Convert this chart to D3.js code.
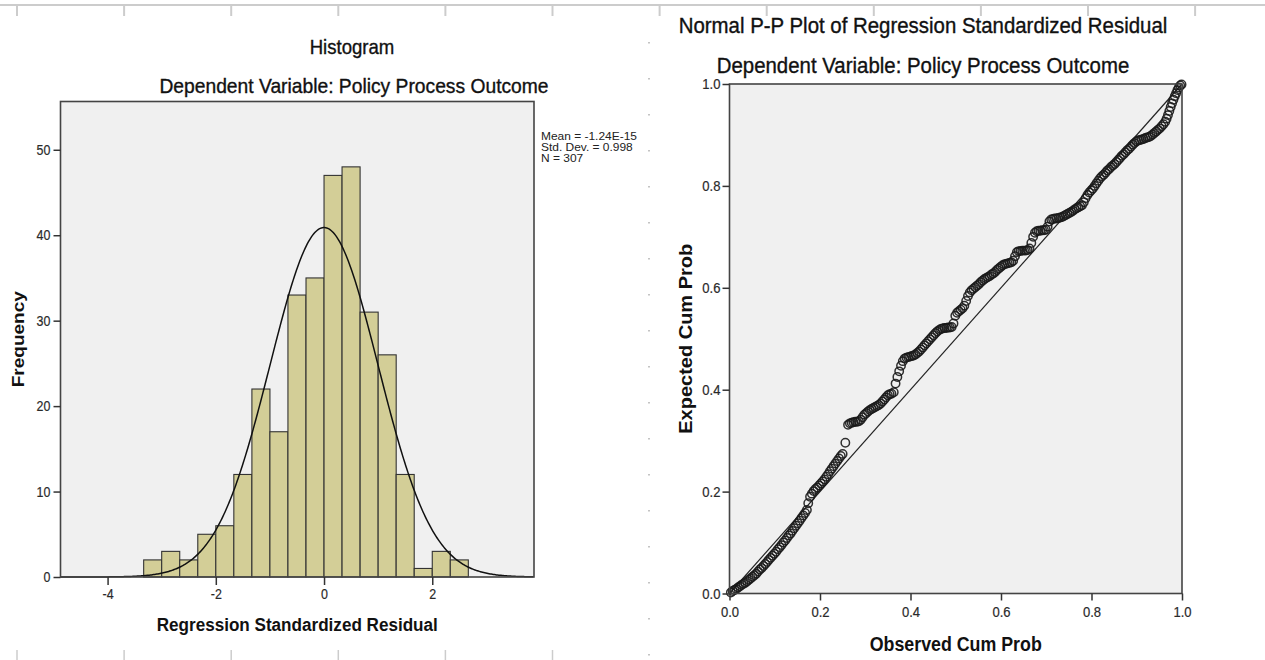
<!DOCTYPE html>
<meta charset="utf-8">
<script src="https://d3js.org/d3.v7.min.js"></script>
<style>
  body { margin: 0; background: #fff; }
  svg { display: block; font-family: Arial, "Liberation Sans", sans-serif; }
</style>
<div id="chart"></div>
<script>

// ---- histogram data (regression standardized residuals) ----
var binLower = [-3.333, -3.0, -2.667, -2.333, -2.0, -1.667, -1.333, -1.0, -0.667,
                -0.333, 0.0, 0.333, 0.667, 1.0, 1.333, 1.667, 2.0, 2.333];
var binWidth = 0.3333;
var binCounts = [2, 3, 2, 5, 6, 12, 22, 17, 33, 35, 47, 48, 31, 26, 12, 1, 3, 2];
var histXTicks = [-4, -2, 0, 2];
var histYTicks = [0, 10, 20, 30, 40, 50];
var resMean = -1.24e-15, resSd = 0.998, resN = 307;
var statLines = ["Mean = -1.24E-15", "Std. Dev. = 0.998", "N = 307"];

// ---- P-P plot points [observed cum prob, expected cum prob] ----
var ppPoints = [
  [0.003,0.002],[0.007,0.005],[0.011,0.007],[0.015,0.009],[0.019,0.012],[0.023,0.014],
  [0.027,0.017],[0.031,0.019],[0.035,0.021],[0.039,0.024],[0.043,0.027],[0.047,0.030],
  [0.051,0.033],[0.055,0.036],[0.059,0.039],[0.063,0.043],[0.067,0.047],[0.071,0.050],
  [0.075,0.054],[0.079,0.058],[0.083,0.062],[0.087,0.066],[0.091,0.070],[0.095,0.074],
  [0.099,0.078],[0.103,0.082],[0.107,0.087],[0.111,0.091],[0.115,0.095],[0.119,0.100],
  [0.123,0.104],[0.127,0.109],[0.131,0.114],[0.135,0.118],[0.139,0.123],[0.143,0.128],
  [0.147,0.133],[0.151,0.138],[0.155,0.143],[0.159,0.148],[0.163,0.153],[0.167,0.158],
  [0.171,0.164],[0.174,0.177],[0.178,0.190],[0.182,0.196],[0.186,0.201],[0.190,0.205],
  [0.194,0.208],[0.198,0.212],[0.202,0.216],[0.206,0.220],[0.210,0.224],[0.214,0.229],
  [0.218,0.234],[0.222,0.240],[0.226,0.245],[0.230,0.250],[0.234,0.255],[0.238,0.260],
  [0.242,0.265],[0.246,0.270],[0.250,0.274],[0.256,0.296],[0.262,0.331],[0.266,0.334],
  [0.270,0.335],[0.274,0.336],[0.278,0.337],[0.282,0.337],[0.286,0.338],[0.290,0.341],
  [0.294,0.346],[0.298,0.351],[0.302,0.354],[0.306,0.357],[0.310,0.360],[0.314,0.362],
  [0.318,0.364],[0.322,0.366],[0.326,0.368],[0.330,0.370],[0.334,0.373],[0.338,0.377],
  [0.342,0.381],[0.346,0.385],[0.350,0.389],[0.354,0.391],[0.358,0.392],[0.363,0.395],
  [0.367,0.412],[0.371,0.425],[0.375,0.436],[0.379,0.447],[0.383,0.456],[0.387,0.461],
  [0.391,0.463],[0.395,0.464],[0.399,0.465],[0.403,0.466],[0.407,0.467],[0.411,0.469],
  [0.415,0.472],[0.419,0.475],[0.423,0.479],[0.427,0.483],[0.431,0.487],[0.435,0.491],
  [0.439,0.495],[0.443,0.499],[0.447,0.503],[0.451,0.507],[0.455,0.511],[0.459,0.514],
  [0.463,0.517],[0.467,0.519],[0.471,0.520],[0.475,0.521],[0.479,0.521],[0.483,0.522],
  [0.487,0.522],[0.491,0.523],[0.495,0.530],[0.499,0.545],[0.503,0.551],[0.507,0.554],
  [0.511,0.557],[0.515,0.560],[0.519,0.565],[0.523,0.574],[0.527,0.584],[0.531,0.591],
  [0.535,0.595],[0.539,0.598],[0.543,0.601],[0.547,0.604],[0.551,0.607],[0.555,0.611],
  [0.559,0.614],[0.563,0.617],[0.567,0.619],[0.571,0.621],[0.575,0.623],[0.579,0.626],
  [0.583,0.628],[0.587,0.631],[0.591,0.635],[0.595,0.638],[0.599,0.641],[0.603,0.644],
  [0.607,0.646],[0.611,0.647],[0.615,0.648],[0.619,0.649],[0.623,0.650],[0.627,0.653],
  [0.631,0.662],[0.635,0.670],[0.639,0.672],[0.643,0.672],[0.647,0.673],[0.651,0.673],
  [0.655,0.673],[0.659,0.674],[0.663,0.677],[0.667,0.688],[0.671,0.700],[0.675,0.708],
  [0.679,0.711],[0.683,0.712],[0.687,0.712],[0.691,0.713],[0.695,0.713],[0.699,0.714],
  [0.703,0.720],[0.707,0.730],[0.711,0.734],[0.715,0.735],[0.719,0.736],[0.723,0.736],
  [0.727,0.737],[0.731,0.738],[0.735,0.739],[0.739,0.741],[0.743,0.743],[0.747,0.745],
  [0.751,0.747],[0.755,0.749],[0.759,0.751],[0.763,0.754],[0.767,0.756],[0.771,0.758],
  [0.775,0.760],[0.779,0.762],[0.783,0.768],[0.787,0.776],[0.791,0.782],[0.795,0.787],
  [0.799,0.791],[0.803,0.795],[0.807,0.800],[0.811,0.805],[0.815,0.810],[0.819,0.815],
  [0.823,0.819],[0.827,0.822],[0.831,0.826],[0.835,0.830],[0.839,0.833],[0.843,0.837],
  [0.847,0.840],[0.851,0.843],[0.855,0.847],[0.859,0.851],[0.863,0.855],[0.867,0.859],
  [0.871,0.862],[0.875,0.866],[0.879,0.870],[0.883,0.873],[0.887,0.877],[0.891,0.881],
  [0.895,0.884],[0.899,0.887],[0.903,0.889],[0.907,0.890],[0.911,0.891],[0.915,0.892],
  [0.919,0.894],[0.923,0.895],[0.927,0.896],[0.931,0.898],[0.935,0.901],[0.939,0.904],
  [0.943,0.907],[0.947,0.910],[0.951,0.913],[0.955,0.917],[0.959,0.921],[0.963,0.926],
  [0.966,0.932],[0.969,0.939],[0.972,0.947],[0.975,0.955],[0.978,0.962],[0.981,0.969],
  [0.984,0.976],[0.987,0.982],[0.990,0.988],[0.993,0.993],[0.996,0.997],[0.999,0.999]
];
var ppTicks = [0, 0.2, 0.4, 0.6, 0.8, 1.0];

var W = 1265, H = 660;
var svg = d3.select("#chart").append("svg")
    .attr("width", W)
    .attr("height", H);

// helper for the (slightly condensed) SPSS style text
function label(g, str, x, y, size, opt) {
  opt = opt || {};
  var tr = "translate(" + x + "," + y + ") scale(" + (opt.sx || 1) + ",1)";
  if (opt.rot) tr += " rotate(" + opt.rot + ")";
  var fill = opt.fill || "#111";
  return g.append("text")
    .attr("transform", tr)
    .attr("text-anchor", opt.anchor || "middle")
    .style("font-size", size + "px")
    .style("font-weight", opt.weight || "normal")
    .style("fill", fill)
    .style("stroke", opt.heavy ? fill : "none")
    .style("stroke-width", opt.heavy || 0)
    .text(str);
}

function styleAxis(ax, side, sx) {
  ax.select(".domain").remove();
  ax.selectAll(".tick line").attr("stroke", "#333").attr("stroke-width", 1.5);
  ax.selectAll(".tick text")
    .attr("font-size", null)
    .style("font-size", "14.5px")
    .style("fill", "#2a2a2a")
    .style("stroke", "#2a2a2a")
    .style("stroke-width", 0.2)
    .each(function() {
      var t = d3.select(this);
      if (side == "left") {
        var xx = +t.attr("x");
        t.attr("x", 0).attr("transform", "translate(" + xx + ",0) scale(" + sx + ",1)");
      } else {
        t.attr("transform", "scale(" + sx + ",1)");
      }
    });
}

// page furniture: ruler line at the top and faint guide marks
var ruler = svg.append("g").attr("stroke", "#cccccc");
ruler.append("line").attr("x1", 0).attr("x2", W).attr("y1", 5).attr("y2", 5).attr("stroke-width", 2);
d3.range(12).forEach(function(k) {
  var xx = 17 + 107.1 * k;
  ruler.append("line").attr("x1", xx).attr("x2", xx).attr("y1", 4).attr("y2", 16).attr("stroke-width", 2);
  if (xx < 640) ruler.append("line").attr("x1", xx).attr("x2", xx).attr("y1", 650).attr("y2", 660).attr("stroke-width", 1.5);
});
d3.range(42, 660, 36).forEach(function(yy) {
  svg.append("rect").attr("x", 648).attr("y", yy).attr("width", 2).attr("height", 1.5).attr("fill", "#c4c4c4");
});

// ================= HISTOGRAM =================
var hL = 60.5, hT = 101.5, hR = 534, hB = 577;
var xH = d3.scaleLinear().domain([-4.87, 3.88]).range([hL, hR]);
var yH = d3.scaleLinear().domain([0, 55.65]).range([hB, hT]);

var gH = svg.append("g");
gH.append("rect")
  .attr("x", hL).attr("y", hT).attr("width", hR - hL).attr("height", hB - hT)
  .attr("fill", "#f0f0f0");

gH.selectAll("rect.bar")
  .data(binCounts)
  .enter()
  .append("rect")
    .attr("class", "bar")
    .attr("x", function(d, i) { return xH(binLower[i]); })
    .attr("y", function(d) { return yH(d); })
    .attr("width", function(d, i) { return xH(binLower[i] + binWidth) - xH(binLower[i]); })
    .attr("height", function(d) { return hB - yH(d); })
    .attr("fill", "#d3ce97")
    .attr("stroke", "#333")
    .attr("stroke-width", 1.1);

// fitted normal curve from the stats shown in the legend
var curveX = d3.range(-4.87, 3.8801, 0.02);
var curve = d3.line()
  .x(function(d) { return xH(d); })
  .y(function(d) {
    var z = (d - resMean) / resSd;
    return yH(resN * binWidth * Math.exp(-0.5 * z * z) / (resSd * Math.sqrt(2 * Math.PI)));
  });
gH.append("path")
  .datum(curveX)
  .attr("d", curve)
  .attr("fill", "none")
  .attr("stroke", "#111")
  .attr("stroke-width", 1.5);

gH.append("rect")
  .attr("x", hL).attr("y", hT).attr("width", hR - hL).attr("height", hB - hT)
  .attr("fill", "none").attr("stroke", "#444").attr("stroke-width", 1.6);

var axHY = gH.append("g")
  .attr("transform", "translate(" + hL + ",0)")
  .call(d3.axisLeft(yH).tickValues(histYTicks).tickSize(7).tickPadding(3).tickFormat(function(d) { return String(d); }));
styleAxis(axHY, "left", 0.86);

var axHX = gH.append("g")
  .attr("transform", "translate(0," + hB + ")")
  .call(d3.axisBottom(xH).tickValues(histXTicks).tickSize(8).tickPadding(4).tickFormat(function(d) { return String(d); }));
styleAxis(axHX, "bottom", 0.86);

label(gH, "Histogram", 352, 54, 20, {sx: 0.93, heavy: 0.35});
label(gH, "Dependent Variable: Policy Process Outcome", 354, 93, 20.5, {sx: 0.94, heavy: 0.35});
label(gH, "Regression Standardized Residual", (hL + hR) / 2, 631, 19, {weight: "bold", sx: 0.9});
label(gH, "Frequency", 24, (hT + hB) / 2, 19, {weight: "bold", sx: 0.9, rot: -90});
statLines.forEach(function(s, i) {
  label(gH, s, 541, 139.5 + i * 11, 11.5, {anchor: "start", sx: 1.04, fill: "#222"});
});

// ================= NORMAL P-P PLOT =================
var pL = 729.5, pT = 84, pR = 1182, pB = 593.5;
var xP = d3.scaleLinear().domain([0, 1]).range([pL, pR]);
var yP = d3.scaleLinear().domain([0, 1]).range([pB, pT]);

var gP = svg.append("g");
gP.append("rect")
  .attr("x", pL).attr("y", pT).attr("width", pR - pL).attr("height", pB - pT)
  .attr("fill", "#f0f0f0");

gP.append("line")
  .attr("x1", xP(0)).attr("y1", yP(0))
  .attr("x2", xP(1)).attr("y2", yP(1))
  .attr("stroke", "#222").attr("stroke-width", 1.2);

gP.selectAll("circle")
  .data(ppPoints)
  .enter()
  .append("circle")
    .attr("cx", function(d) { return xP(d[0]); })
    .attr("cy", function(d) { return yP(d[1]); })
    .attr("r", 4.2)
    .attr("fill", "none")
    .attr("stroke", "#1a1a1a")
    .attr("stroke-opacity", 0.9)
    .attr("stroke-width", 1.5);

gP.append("rect")
  .attr("x", pL).attr("y", pT).attr("width", pR - pL).attr("height", pB - pT)
  .attr("fill", "none").attr("stroke", "#444").attr("stroke-width", 1.6);

var axPY = gP.append("g")
  .attr("transform", "translate(" + pL + ",0)")
  .call(d3.axisLeft(yP).tickValues(ppTicks).tickSize(7).tickPadding(2).tickFormat(d3.format(".1f")));
styleAxis(axPY, "left", 0.9);

var axPX = gP.append("g")
  .attr("transform", "translate(0," + pB + ")")
  .call(d3.axisBottom(xP).tickValues(ppTicks).tickSize(7).tickPadding(6).tickFormat(d3.format(".1f")));
styleAxis(axPX, "bottom", 0.9);

label(gP, "Normal P-P Plot of Regression Standardized Residual", 923, 33, 21.5, {sx: 0.95, heavy: 0.35});
label(gP, "Dependent Variable: Policy Process Outcome", 923, 73, 21.5, {sx: 0.95, heavy: 0.35});
label(gP, "Observed Cum Prob", (pL + pR) / 2, 651, 20, {weight: "bold", sx: 0.89});
label(gP, "Expected Cum Prob", 692, (pT + pB) / 2, 20, {weight: "bold", sx: 0.9, rot: -90});

</script>
